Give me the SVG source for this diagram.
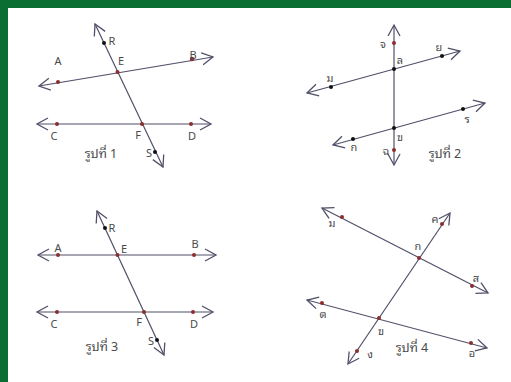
<svg xmlns="http://www.w3.org/2000/svg" width="511" height="382" viewBox="0 0 511 382">
<style>
.ln{stroke:#50506a;stroke-width:1.2;fill:none;marker-start:url(#ah);marker-end:url(#ah)}
.dr{fill:#8b2e2e}
.dk{fill:#111}
text{font-family:"Noto Sans","Noto Sans Thai Looped","Loma","Garuda","Norasi","Noto Sans Thai","DejaVu Sans",sans-serif;font-size:11px;fill:#4a4a4a;text-anchor:middle}
.cap{font-size:12.5px}
</style>
<defs>
<marker id="ah" markerUnits="userSpaceOnUse" markerWidth="16" markerHeight="16" refX="0" refY="0" viewBox="-14 -8 16 16" orient="auto-start-reverse" overflow="visible">
<path d="M-11,-6 L0,0 L-11,6" fill="none" stroke="#50506a" stroke-width="1.3"/>
</marker>
</defs>
<rect width="511" height="382" fill="#fff"/>
<rect width="511" height="8" fill="#0a6e32"/>
<rect width="8" height="382" fill="#0a6e32"/>
<g id="connectors">
<line class="ln" x1="39" y1="86" x2="213" y2="57"/>
<line class="ln" x1="37" y1="124" x2="211" y2="124"/>
<line class="ln" x1="95" y1="24" x2="163" y2="167"/>
<line class="ln" x1="394" y1="25" x2="394" y2="165"/>
<line class="ln" x1="307" y1="93" x2="460" y2="51"/>
<line class="ln" x1="333" y1="145" x2="485" y2="103"/>
<line class="ln" x1="38" y1="255" x2="216" y2="255"/>
<line class="ln" x1="37" y1="312" x2="213" y2="312"/>
<line class="ln" x1="97" y1="211" x2="164" y2="355"/>
<line class="ln" x1="322" y1="208" x2="488" y2="293"/>
<line class="ln" x1="450" y1="213" x2="348" y2="364"/>
<line class="ln" x1="307" y1="300" x2="487" y2="348"/>
</g>
<g id="fig1">
<g id="f1-A"><circle class="dr" cx="58" cy="82" r="2"/><text x="58" y="65">A</text></g>
<g id="f1-B"><circle class="dr" cx="192" cy="59" r="2.2"/><text x="193" y="59">B</text></g>
<g id="f1-E"><circle class="dr" cx="117.5" cy="72" r="2"/><text x="121" y="65">E</text></g>
<g id="f1-R"><circle class="dk" cx="104" cy="43" r="2"/><text x="112" y="45">R</text></g>
<g id="f1-C"><circle class="dr" cx="57" cy="124" r="2"/><text x="54" y="140">C</text></g>
<g id="f1-F"><circle class="dr" cx="142" cy="124" r="2"/><text x="138" y="139">F</text></g>
<g id="f1-D"><circle class="dr" cx="191" cy="124" r="2"/><text x="192" y="140">D</text></g>
<g id="f1-S"><circle class="dk" cx="155" cy="152" r="2"/><text x="149" y="157">S</text></g>
<text id="cap1" class="cap" x="101" y="158">รูปที่ 1</text>
</g>
<g id="fig2">
<g id="f2-jo"><circle class="dr" cx="394" cy="43" r="2"/><text x="383" y="48">จ</text></g>
<g id="f2-lo"><circle class="dk" cx="394" cy="69" r="2"/><text x="400" y="64">ล</text></g>
<g id="f2-yo"><circle class="dk" cx="442" cy="56" r="2"/><text x="439" y="51">ย</text></g>
<g id="f2-mo"><circle class="dk" cx="331" cy="87" r="2"/><text x="330" y="82">ม</text></g>
<g id="f2-kho"><circle class="dk" cx="394" cy="128" r="2"/><text x="400" y="141">ข</text></g>
<g id="f2-ko"><circle class="dk" cx="353" cy="139" r="2"/><text x="354" y="151">ก</text></g>
<g id="f2-cho"><circle class="dr" cx="394" cy="150" r="2"/><text x="386" y="155">ฉ</text></g>
<g id="f2-ro"><circle class="dk" cx="463" cy="109" r="2"/><text x="467" y="123">ร</text></g>
<text id="cap2" class="cap" x="445" y="158">รูปที่ 2</text>
</g>
<g id="fig3">
<g id="f3-A"><circle class="dr" cx="58" cy="255" r="2"/><text x="58" y="252">A</text></g>
<g id="f3-E"><circle class="dr" cx="117.5" cy="255" r="2"/><text x="124" y="253">E</text></g>
<g id="f3-B"><circle class="dr" cx="194" cy="255" r="2"/><text x="195" y="248">B</text></g>
<g id="f3-R"><circle class="dk" cx="105" cy="228" r="2"/><text x="112" y="232">R</text></g>
<g id="f3-C"><circle class="dr" cx="57" cy="312" r="2"/><text x="54" y="328">C</text></g>
<g id="f3-F"><circle class="dr" cx="144" cy="312" r="2"/><text x="139" y="326">F</text></g>
<g id="f3-D"><circle class="dr" cx="193" cy="312" r="2"/><text x="194" y="328">D</text></g>
<g id="f3-S"><circle class="dk" cx="157" cy="340" r="2"/><text x="151" y="345">S</text></g>
<text id="cap3" class="cap" x="102" y="351">รูปที่ 3</text>
</g>
<g id="fig4">
<g id="f4-mo"><circle class="dr" cx="342" cy="217" r="2"/><text x="332" y="227">ม</text></g>
<g id="f4-kho2"><circle class="dr" cx="442" cy="224" r="2"/><text x="435" y="223">ค</text></g>
<g id="f4-ko"><circle class="dr" cx="419" cy="258" r="2"/><text x="418" y="250">ก</text></g>
<g id="f4-so"><circle class="dr" cx="472" cy="286" r="2"/><text x="476" y="282">ส</text></g>
<g id="f4-to"><circle class="dr" cx="322" cy="303" r="2"/><text x="323" y="318">ต</text></g>
<g id="f4-kho"><circle class="dr" cx="379" cy="318" r="2"/><text x="381" y="335">ข</text></g>
<g id="f4-ngo"><circle class="dr" cx="357" cy="351" r="2"/><text x="370" y="358">ง</text></g>
<g id="f4-o"><circle class="dr" cx="471" cy="343" r="2"/><text x="472" y="357">อ</text></g>
<text id="cap4" class="cap" x="412" y="352">รูปที่ 4</text>
</g>
</svg>
